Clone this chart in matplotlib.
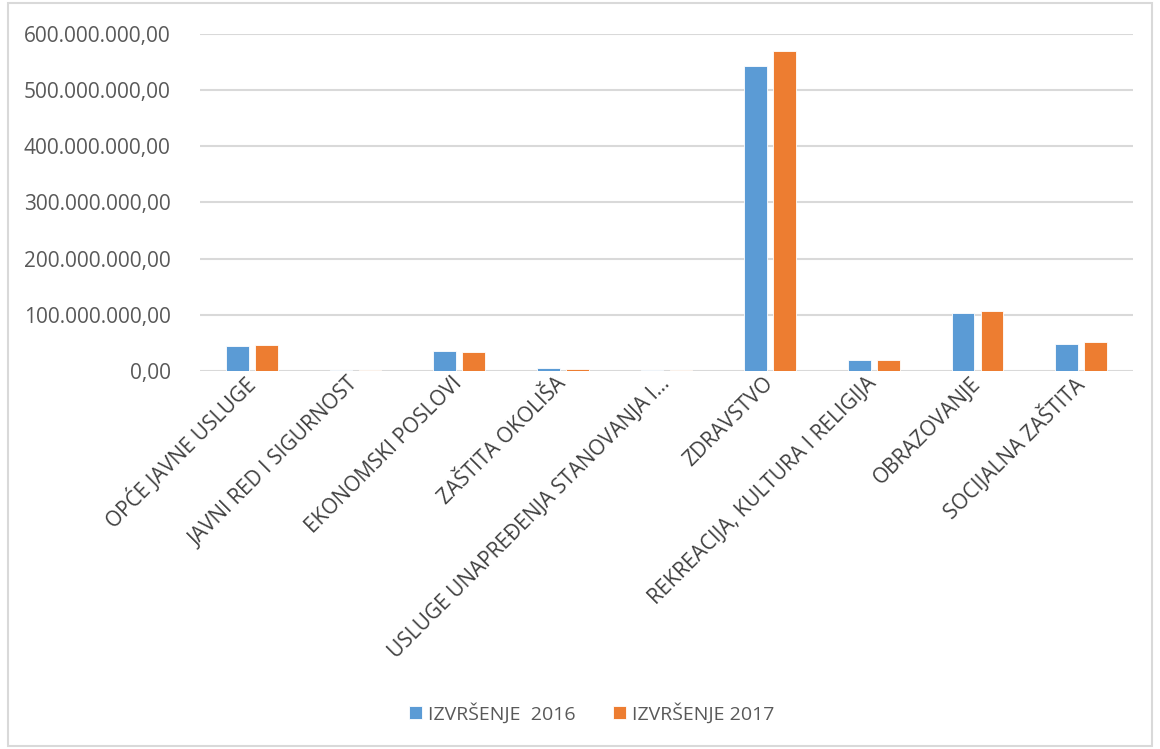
import numpy as np
import matplotlib
matplotlib.use("Agg")
import matplotlib.pyplot as plt
from matplotlib.patches import Rectangle

plt.rcParams['font.family'] = ['Open Sans', 'DejaVu Sans']

categories = ['OPĆE JAVNE USLUGE', 'JAVNI RED I SIGURNOST', 'EKONOMSKI POSLOVI',
              'ZAŠTITA OKOLIŠA', 'USLUGE UNAPREĐENJA STANOVANJA I...', 'ZDRAVSTVO',
              'REKREACIJA, KULTURA I RELIGIJA', 'OBRAZOVANJE', 'SOCIJALNA ZAŠTITA']
izvrsenje_2016 = [44.5e6, 1.0e6, 35.6e6, 5.3e6, 1.0e6, 543e6, 19.2e6, 104e6, 47.5e6]
izvrsenje_2017 = [46.8e6, 1.0e6, 33.8e6, 3.6e6, 1.0e6, 570e6, 19.5e6, 107e6, 51e6]
series_labels = ['IZVRŠENJE  2016', 'IZVRŠENJE 2017']
y_ticks = [0, 100e6, 200e6, 300e6, 400e6, 500e6, 600e6]

BLUE = '#5B9BD5'
ORANGE = '#ED7D31'
TEXT = '#595959'
GRID = '#D9D9D9'


def fmt_hr(v):
    # croatian number style: 100.000.000,00
    s = f"{v:,.2f}"
    return s.replace(",", "X").replace(".", ",").replace("X", ".")


fig = plt.figure(figsize=(11.6, 7.49), dpi=100)
ax = fig.add_axes([0.1724, 0.5047, 0.8043, 0.4499])

x = np.arange(len(categories))
w = 0.22
off = 0.14
b1 = ax.bar(x - off, izvrsenje_2016, w, color=BLUE, edgecolor='white', linewidth=0.6,
            label=series_labels[0], zorder=3)
b2 = ax.bar(x + off, izvrsenje_2017, w, color=ORANGE, edgecolor='white', linewidth=0.6,
            label=series_labels[1], zorder=3)

ax.set_xlim(-0.5, len(categories) - 0.5)
ax.set_ylim(0, 600e6)
ax.set_yticks(y_ticks)
ax.set_yticklabels([fmt_hr(v) for v in y_ticks], fontsize=15, color=TEXT)
ax.yaxis.grid(True, color=GRID, linewidth=1.5, zorder=0)
ax.tick_params(axis='y', length=0, pad=21)
ax.tick_params(axis='x', length=0, pad=7)
for s in ax.spines.values():
    s.set_visible(False)

ax.set_xticks(x)
ax.set_xticklabels(categories, rotation=45, ha='right', rotation_mode='anchor',
                   fontsize=15, color='#404040')
for lbl in ax.get_xticklabels():
    lbl.set_va('center')

leg = fig.legend(handles=[b1, b2], labels=series_labels, loc='center',
                 bbox_to_anchor=(0.51, 1 - 713 / 749), ncol=2, frameon=False,
                 fontsize=14, handlelength=0.7, handleheight=0.7,
                 handletextpad=0.3, columnspacing=1.9, labelcolor=TEXT)

fig.patches.append(Rectangle((8 / 1160, 3 / 749), 1 - 16 / 1160, 1 - 6 / 749,
                             transform=fig.transFigure, fill=False,
                             edgecolor=GRID, linewidth=1.5))

fig.savefig('out.png', dpi=100)
